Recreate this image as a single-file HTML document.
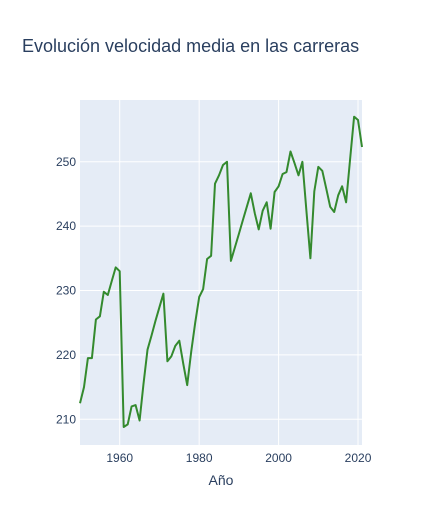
<!DOCTYPE html>
<html><head><meta charset="utf-8"><style>
body{margin:0;background:#fff;font-family:"Liberation Sans",sans-serif;}
svg{display:block}
</style></head><body>
<svg id="chart" width="443" height="525">
<rect x="0" y="0" width="443" height="525" fill="#fff"/>
<text x="22" y="52" font-size="18" fill="#2a3f5f">Evolución velocidad media en las carreras</text>
<rect x="80" y="100" width="282" height="345" fill="#e5ecf6"/>
<g id="grid"></g>
<g id="ticks"></g>
<path id="line" fill="none" stroke="#348a2e" stroke-width="2" stroke-linejoin="round"/>
<text x="221" y="485" font-size="14" fill="#2a3f5f" text-anchor="middle">Año</text>
</svg>
<script>
const years=[];for(let y=1950;y<=2021;y++)years.push(y);
const speeds=[212.5,215,219.5,219.5,225.5,226,229.8,229.3,231.5,233.6,233,208.8,209.2,212,212.2,209.8,215.5,220.8,223,225.3,227.4,229.5,219,219.8,221.4,222.2,218.6,215.3,220.5,225,229,230.2,234.9,235.4,246.6,247.9,249.5,250,234.6,236.7,238.8,240.9,243,245.1,242,239.5,242.4,243.7,239.6,245.3,246.2,248.1,248.4,251.6,249.8,247.9,250,242.4,235,245.4,249.2,248.6,245.8,243,242.2,244.8,246.2,243.7,250.4,257,256.5,252.3];
const xTicks=[1960,1980,2000,2020];
const yTicks=[210,220,230,240,250];
const L=80,R=362,T=100,B=445,x0=1950,x1=2021,y0=206,y1=259.6;
const sx=v=>L+(v-x0)/(x1-x0)*(R-L);
const sy=v=>B-(v-y0)/(y1-y0)*(B-T);
const NS="http://www.w3.org/2000/svg";
const grid=document.getElementById('grid'),ticks=document.getElementById('ticks');
yTicks.forEach(t=>{
 const l=document.createElementNS(NS,'line');
 l.setAttribute('x1',L);l.setAttribute('x2',R);l.setAttribute('y1',sy(t));l.setAttribute('y2',sy(t));
 l.setAttribute('stroke','#fff');l.setAttribute('stroke-width','1');
 
 
 grid.appendChild(l);
 const tx=document.createElementNS(NS,'text');
 tx.setAttribute('x',L-4);tx.setAttribute('y',sy(t)+4);tx.setAttribute('text-anchor','end');
 tx.setAttribute('font-size','12');tx.setAttribute('fill','#2a3f5f');tx.textContent=t;
 
 
 ticks.appendChild(tx);
});
xTicks.forEach(t=>{
 const l=document.createElementNS(NS,'line');
 l.setAttribute('x1',sx(t));l.setAttribute('x2',sx(t));l.setAttribute('y1',T);l.setAttribute('y2',B);
 l.setAttribute('stroke','#fff');l.setAttribute('stroke-width','1');
 
 
 grid.appendChild(l);
 const tx=document.createElementNS(NS,'text');
 tx.setAttribute('x',sx(t));tx.setAttribute('y',B+17);tx.setAttribute('text-anchor','middle');
 tx.setAttribute('font-size','12');tx.setAttribute('fill','#2a3f5f');tx.textContent=t;
 
 
 ticks.appendChild(tx);
});
document.getElementById('line').setAttribute('d',years.map((y,i)=>(i?'L':'M')+sx(y).toFixed(1)+','+sy(speeds[i]).toFixed(1)).join(''));
</script>
</body></html>
